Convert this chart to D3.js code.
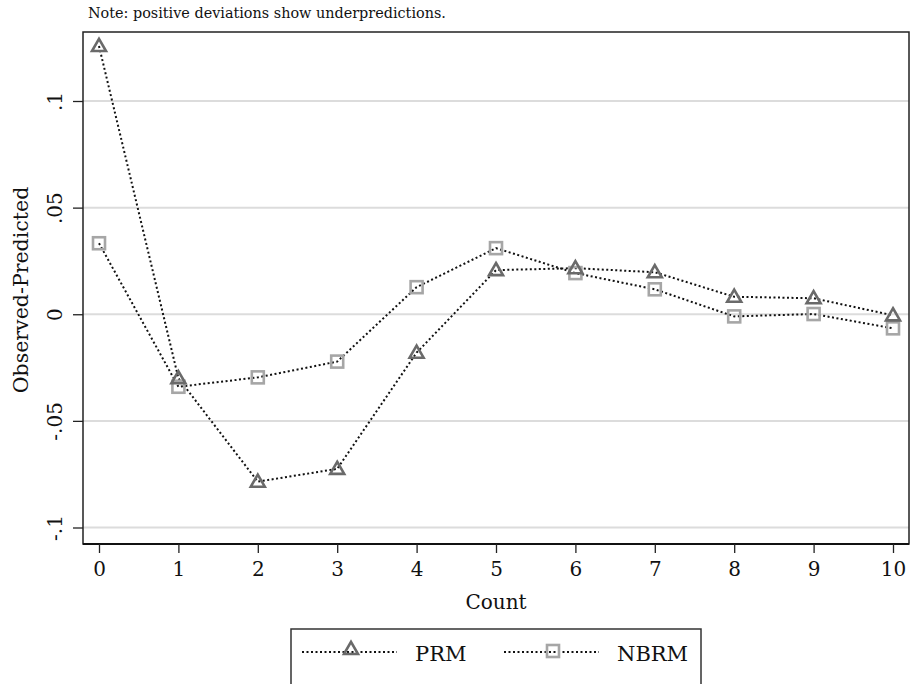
<!DOCTYPE html>
<html>
<head>
<meta charset="utf-8">
<script src="https://cdn.jsdelivr.net/npm/d3@7"></script>
<style>
  body { margin: 0; background: #fff; }
  svg text { font-family: "DejaVu Serif", "Liberation Serif", serif; fill: #111; }
</style>
</head>
<body>
<svg width="910" height="684"></svg>
<script>
// values
var counts = [0, 1, 2, 3, 4, 5, 6, 7, 8, 9, 10];
var prm  = [0.1258, -0.030, -0.0785, -0.0725, -0.018, 0.0207, 0.0216, 0.0197, 0.0082, 0.0075, -0.0005];
var nbrm = [0.0333, -0.034, -0.0296, -0.0222, 0.0127, 0.031, 0.0193, 0.0117, -0.0010, 0.0001, -0.0066];
var yTicks = [-0.1, -0.05, 0, 0.05, 0.1];
var yTickLabels = ["-.1", "-.05", "0", ".05", ".1"];
var seriesNames = ["PRM", "NBRM"];

var svg = d3.select("svg");
var plotL = 83, plotR = 909, plotT = 32, plotB = 544;

var x = d3.scaleLinear().domain([0, 10]).range([99, 893]);
var y = d3.scaleLinear().domain([-0.1, 0.1]).range([527.5, 101]);

// gridlines
svg.append("g").selectAll("line")
  .data(yTicks).enter().append("line")
    .attr("x1", plotL).attr("x2", plotR)
    .attr("y1", function(d) { return y(d); })
    .attr("y2", function(d) { return y(d); })
    .attr("stroke", "#dcdcdc").attr("stroke-width", 2);

// plot frame
svg.append("rect")
  .attr("x", plotL).attr("y", plotT)
  .attr("width", plotR - plotL).attr("height", plotB - plotT)
  .attr("fill", "none").attr("stroke", "#222").attr("stroke-width", 1.5);
svg.append("line")
  .attr("x1", plotL).attr("x2", plotR).attr("y1", plotB).attr("y2", plotB)
  .attr("stroke", "#111").attr("stroke-width", 2.2);

// y axis, labels rotated like the original
var yAxis = d3.axisLeft(y).tickValues(yTicks)
  .tickFormat(function(d, i) { return yTickLabels[i]; })
  .tickSize(10);
var gy = svg.append("g").attr("transform", "translate(" + plotL + ",0)").call(yAxis);
gy.select(".domain").remove();
gy.selectAll(".tick line").attr("stroke", "#222").attr("stroke-width", 1.3);
gy.selectAll(".tick text")
  .attr("font-size", 20)
  .attr("text-anchor", "middle")
  .attr("x", 0).attr("y", -21).attr("dy", 0)
  .attr("transform", "rotate(-90)");

// x axis
var xAxis = d3.axisBottom(x).tickValues(counts).tickFormat(d3.format("d"))
  .tickSize(9).tickPadding(9);
var gx = svg.append("g").attr("transform", "translate(0," + plotB + ")").call(xAxis);
gx.select(".domain").remove();
gx.selectAll(".tick line").attr("stroke", "#222").attr("stroke-width", 1.3);
gx.selectAll(".tick text").attr("font-size", 20);

// axis titles
svg.append("text")
  .attr("x", 496).attr("y", 609)
  .attr("text-anchor", "middle").attr("font-size", 20)
  .text("Count");
svg.append("text")
  .attr("transform", "translate(28," + 290 + ") rotate(-90)")
  .attr("text-anchor", "middle").attr("font-size", 20.5)
  .text("Observed-Predicted");

// note
svg.append("text")
  .attr("x", 88).attr("y", 18)
  .attr("font-size", 14.4)
  .text("Note: positive deviations show underpredictions.");

var line = d3.line()
  .x(function(d, i) { return x(counts[i]); })
  .y(function(d) { return y(d); });

function drawLine(vals) {
  svg.append("path")
    .datum(vals)
    .attr("d", line)
    .attr("fill", "none")
    .attr("stroke", "#111")
    .attr("stroke-width", 2)
    .attr("stroke-dasharray", "2,2.5");
}

var tri = d3.symbol().type(d3.symbolTriangle).size(85);

function drawTriangles(vals, g) {
  g.selectAll("path.tri").data(vals).enter().append("path")
    .attr("class", "tri")
    .attr("d", tri)
    .attr("transform", function(d, i) { return "translate(" + x(counts[i]) + "," + (y(d) + 1) + ")"; })
    .attr("fill", "none").attr("stroke", "#6a6a6a").attr("stroke-width", 2.6);
}
function drawSquares(vals, g) {
  g.selectAll("rect.sq").data(vals).enter().append("rect")
    .attr("class", "sq")
    .attr("x", function(d, i) { return x(counts[i]) - 6; })
    .attr("y", function(d) { return y(d) - 6; })
    .attr("width", 12).attr("height", 12)
    .attr("fill", "none").attr("stroke", "#a6a6a6").attr("stroke-width", 2.6);
}

drawLine(prm);
drawLine(nbrm);
drawSquares(nbrm, svg.append("g"));
drawTriangles(prm, svg.append("g"));

// legend
var lg = svg.append("g");
lg.append("rect")
  .attr("x", 291).attr("y", 629).attr("width", 410).attr("height", 70)
  .attr("fill", "#fff").attr("stroke", "#333").attr("stroke-width", 1.5);

var legendItems = [
  { name: seriesNames[0], x0: 302, kind: "tri" },
  { name: seriesNames[1], x0: 504, kind: "sq" }
];
legendItems.forEach(function(it) {
  var ly = 652;
  lg.append("line")
    .attr("x1", it.x0).attr("x2", it.x0 + 95)
    .attr("y1", ly).attr("y2", ly)
    .attr("stroke", "#111").attr("stroke-width", 2)
    .attr("stroke-dasharray", "2,2.5");
  var cx = it.x0 + 49;
  if (it.kind === "tri") {
    lg.append("path").attr("d", tri)
      .attr("transform", "translate(" + cx + "," + (ly - 2) + ")")
      .attr("fill", "none").attr("stroke", "#6a6a6a").attr("stroke-width", 2.6);
  } else {
    lg.append("rect")
      .attr("x", cx - 6).attr("y", ly - 7).attr("width", 12).attr("height", 12)
      .attr("fill", "none").attr("stroke", "#a6a6a6").attr("stroke-width", 2.6);
  }
  lg.append("text")
    .attr("x", it.x0 + 113).attr("y", ly + 9)
    .attr("font-size", 21)
    .text(it.name);
});
</script>
</body>
</html>
